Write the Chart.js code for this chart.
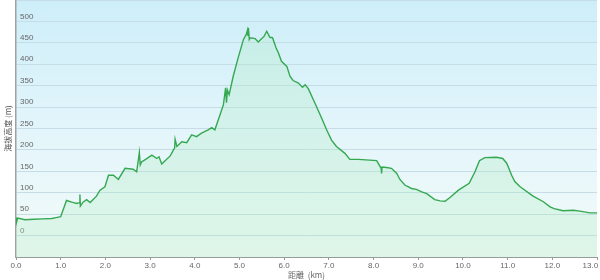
<!DOCTYPE html>
<html>
<head>
<meta charset="utf-8">
<script src="https://cdn.jsdelivr.net/npm/chart.js@4/dist/chart.umd.min.js"></script>
<style>
  html, body { margin: 0; padding: 0; background: #fff; }
  #wrap { width: 600px; height: 280px; }
</style>
</head>
<body>
<div id="wrap"><canvas id="profileChart" width="600" height="280"></canvas></div>
<script>
// distance along the route (km) and elevation (m)
var distKm = [0, 0.01, 0.04, 0.2, 0.4, 0.6, 0.8, 0.9, 1.0, 1.13, 1.25, 1.36, 1.42, 1.43, 1.44, 1.5, 1.58, 1.66,
  1.8, 1.88, 1.99, 2.07, 2.18, 2.29, 2.44, 2.62, 2.70, 2.76, 2.78, 2.81, 2.9, 3.04, 3.15, 3.20, 3.26, 3.45,
  3.55, 3.56, 3.6, 3.71, 3.82, 3.93, 4.04, 4.15, 4.30, 4.38, 4.45, 4.64, 4.69, 4.71, 4.73, 4.77, 4.86, 4.97,
  5.09, 5.15, 5.18, 5.19, 5.20, 5.22, 5.24, 5.35, 5.42, 5.50, 5.55, 5.61, 5.68, 5.74, 5.82, 5.87, 5.94, 6.06, 6.13, 6.20,
  6.32, 6.41, 6.47, 6.54, 6.69, 6.84, 6.95, 7.06, 7.17, 7.36, 7.47, 7.66, 8.07, 8.17, 8.18, 8.19, 8.29, 8.40,
  8.52, 8.59, 8.70, 8.85, 8.96, 9.08, 9.19, 9.37, 9.49, 9.60, 9.71, 9.90, 10.14, 10.27, 10.37, 10.49, 10.75,
  10.89, 10.98, 11.09, 11.16, 11.28, 11.57, 11.80, 11.95, 12.04, 12.24, 12.47, 12.62, 12.84, 13.0];
var elevM = [42, 30, 41, 37, 38, 39, 40, 42, 44, 82, 78, 75, 77, 96, 69, 78, 84, 77,
  92, 106, 114, 141, 141, 131, 157, 155, 149, 194, 165, 172, 178, 188, 180, 184, 167, 186,
  205, 225, 208, 219, 217, 235, 231, 239, 247, 252, 247, 305, 345, 310, 340, 329, 372, 415,
  458, 469, 480, 466, 485, 458, 462, 460, 452, 460, 465, 477, 463, 462, 438, 427, 407, 395, 372, 362,
  356, 346, 352, 343, 309, 274, 247, 223, 208, 192, 178, 178, 175, 157, 145, 160, 159, 157,
  145, 131, 118, 110, 108, 102, 98, 84, 81, 80, 89, 106, 122, 149, 175, 182, 183,
  180, 169, 141, 126, 114, 92, 79, 67, 63, 58, 59, 57, 53, 53];

var xMin = 0, xMax = 13, xStep = 1;
var yMin = -50, yMax = 550, yStep = 50;
var yLabelFrom = 0, yLabelTo = 500;

var points = [];
for (var i = 0; i < distKm.length; i++) {
  points.push({ x: distKm[i], y: elevM[i] });
}

// light blue to pale mint behind the plot
var plotBackground = {
  id: 'plotBackground',
  beforeDraw: function(chart) {
    var ctx = chart.ctx, a = chart.chartArea;
    var g = ctx.createLinearGradient(0, a.top, 0, a.bottom);
    g.addColorStop(0, '#cdeef9');
    g.addColorStop(0.5, '#e3f5fb');
    g.addColorStop(1, '#f3fbf8');
    ctx.save();
    ctx.fillStyle = g;
    ctx.fillRect(a.left, a.top, a.right - a.left, a.bottom - a.top);
    ctx.restore();
  }
};

var ctx = document.getElementById('profileChart').getContext('2d');
var profileChart = new Chart(ctx, {
  type: 'line',
  data: {
    datasets: [{
      data: points,
      borderColor: '#35a852',
      borderWidth: 1.4,
      backgroundColor: 'rgba(175, 235, 195, 0.3)',
      fill: 'start',
      tension: 0,
      pointRadius: 0
    }]
  },
  options: {
    responsive: false,
    animation: false,
    layout: { padding: { top: 0, right: 3, left: 0, bottom: 0 } },
    plugins: { legend: { display: false }, tooltip: { enabled: false } },
    scales: {
      x: {
        type: 'linear',
        min: xMin,
        max: xMax,
        grid: { drawOnChartArea: false, drawTicks: true, tickLength: 3, tickColor: '#999' },
        border: { color: '#9a9a9a', width: 1 },
        ticks: {
          stepSize: xStep,
          padding: 1,
          maxRotation: 0,
          color: '#666',
          font: { family: 'Liberation Sans, Arial', size: 8 },
          callback: function(v) {
            var s = Number(v).toFixed(1);
            return v === xMax ? s + '      ' : s;
          }
        },
        title: {
          display: true,
          text: '距離  (km)',
          color: '#666',
          font: { family: 'Noto Sans CJK JP, Liberation Sans', size: 8 },
          padding: { top: 0, bottom: 0 }
        },
        afterFit: function(axis) {
          axis.height = 23;
          axis.paddingLeft = 0;
          axis.paddingRight = 0;
        }
      },
      y: {
        min: yMin,
        max: yMax,
        grid: { color: '#c6dde7', drawTicks: false },
        border: { color: '#a0a0a0', width: 1.5 },
        ticks: {
          stepSize: yStep,
          mirror: true,
          padding: 4,
          labelOffset: -5,
          color: '#666',
          font: { family: 'Liberation Sans, Arial', size: 8 },
          callback: function(v) {
            return (v >= yLabelFrom && v <= yLabelTo) ? String(v) : '';
          }
        },
        title: {
          display: true,
          text: '海拔高度 (m)',
          color: '#555',
          font: { family: 'Noto Sans CJK JP, Liberation Sans', size: 8 },
          padding: { top: 3, bottom: 0 }
        },
        afterFit: function(axis) {
          axis.width = 16;
          axis.paddingTop = 0;
          axis.paddingBottom = 0;
        }
      }
    }
  },
  plugins: [plotBackground]
});
</script>
</body>
</html>
